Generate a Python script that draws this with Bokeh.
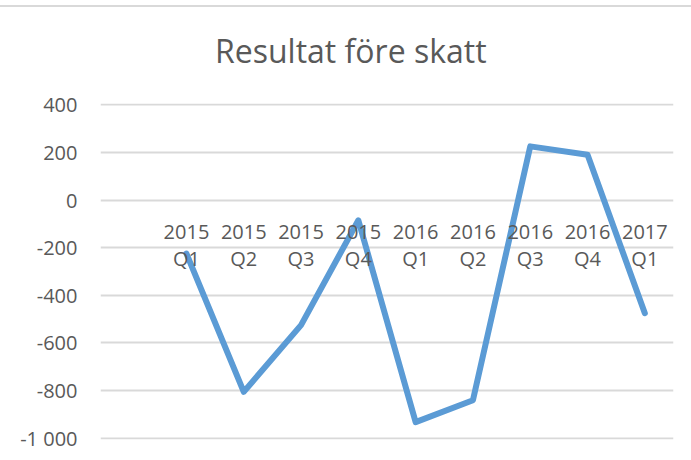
from bokeh.plotting import figure
from bokeh.models import FixedTicker, Range1d, FactorRange, Div
from bokeh.layouts import column
from bokeh.embed import file_html
from bokeh.resources import INLINE

# Data
quarters = ["2015\nQ1", "2015\nQ2", "2015\nQ3", "2015\nQ4",
            "2016\nQ1", "2016\nQ2", "2016\nQ3", "2016\nQ4", "2017\nQ1"]
values = [-225, -805, -525, -85, -932, -840, 225, 190, -475]
y_ticks = [-1000, -800, -600, -400, -200, 0, 200, 400]
y_tick_labels = ["-1 000", "-800", "-600", "-400", "-200", "0", "200", "400"]
title_text = "Resultat före skatt"

TEXT = "#595959"
GRID = "#D9D9D9"
LINE = "#5B9BD5"
FONT = "Open Sans"

factors = [" "] + quarters

title_div = Div(
    text=title_text, width=691, height=60,
    styles={"font-family": "'Open Sans'", "font-size": "32px",
            "color": TEXT, "padding-left": "215px", "padding-top": "21px",
            "line-height": "normal", "box-sizing": "border-box",
            "white-space": "nowrap", "transform": "translate(-5px, -4px)"},
)

p = figure(
    width=691, height=386,
    x_range=FactorRange(factors=factors, range_padding=0),
    y_range=Range1d(-1005, 405),
    output_backend="svg", toolbar_location=None,
    min_border_left=100, min_border_right=18,
    min_border_top=26, min_border_bottom=24,
)
p.outline_line_color = None
p.background_fill_color = "white"
p.border_fill_color = "white"

p.line(x=quarters, y=values, line_color=LINE, line_width=6,
       line_join="round", line_cap="round")

# y axis
p.yaxis.ticker = FixedTicker(ticks=y_ticks)
p.yaxis.major_label_overrides = {t: l for t, l in zip(y_ticks, y_tick_labels)}
p.yaxis.axis_line_color = None
p.yaxis.major_tick_line_color = None
p.yaxis.minor_tick_line_color = None
p.yaxis.major_tick_out = 0
p.yaxis.major_tick_in = 0
p.yaxis.major_label_standoff = 23
p.yaxis.major_label_text_font = FONT
p.yaxis.major_label_text_font_size = "20px"
p.yaxis.major_label_text_color = TEXT

# x axis at y = 0
p.xaxis.fixed_location = 0
p.xaxis.axis_line_color = None
p.xaxis.major_tick_line_color = None
p.xaxis.minor_tick_line_color = None
p.xaxis.major_tick_out = 0
p.xaxis.major_tick_in = 0
p.xaxis.major_label_standoff = 18
p.xaxis.major_label_text_font = FONT
p.xaxis.major_label_text_font_size = "20px"
p.xaxis.major_label_text_color = TEXT
p.xaxis.major_label_text_line_height = 1.0
p.xaxis.major_label_orientation = "horizontal"

p.xgrid.grid_line_color = None
p.ygrid.grid_line_color = GRID
p.ygrid.grid_line_width = 2

layout = column(title_div, p, spacing=0,
                styles={"margin-top": "5px", "border-top": "2px solid #D9D9D9",
                        "background-color": "white"})

open("out.html", "w").write(file_html(layout, INLINE))
